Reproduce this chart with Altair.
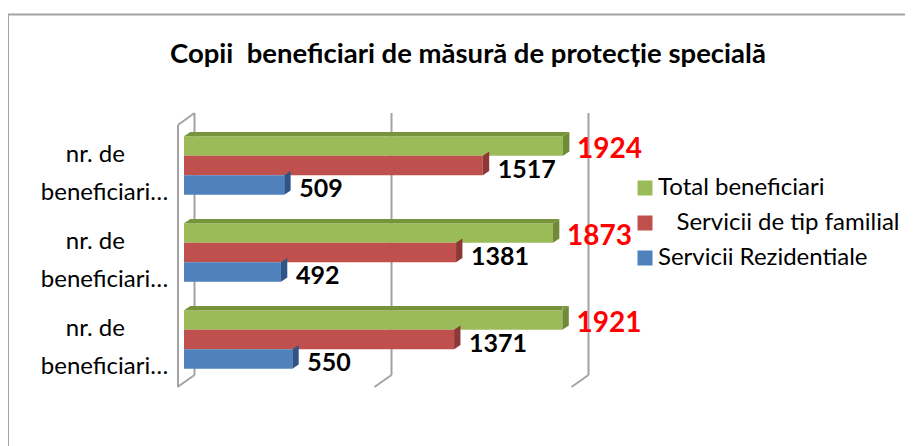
import altair as alt
import pandas as pd

categories = ["nr. de beneficiari… (1)", "nr. de beneficiari… (2)", "nr. de beneficiari… (3)"]
series_names = ["Total beneficiari", "\u200b\u00a0\u00a0\u00a0Servicii de tip familial", "Servicii Rezidentiale"]
total_values = [1924, 1873, 1921]
family_values = [1517, 1381, 1371]
residential_values = [509, 492, 550]
grid_values = [0, 1000, 2000]

front_colors = ["#9BBB59", "#C0504D", "#4F81BD"]
side_colors = ["#6F8A38", "#8C3836", "#2F5487"]
top_color = "#77933C"
wall_color = "#A3A3A3"
font = "Lato"

rows = []
for c, t, f, r in zip(categories, total_values, family_values, residential_values):
    rows.append({"cat": c, "series": series_names[0], "value": t, "zero": 0})
    rows.append({"cat": c, "series": series_names[1], "value": f, "zero": 0})
    rows.append({"cat": c, "series": series_names[2], "value": r, "zero": 0})
df = pd.DataFrame(rows)
grid = pd.DataFrame({"v": grid_values})

PLOT_W, PLOT_H = 430, 261
x_scale = alt.Scale(domain=[-71.07, 2111.7], nice=False, zero=False)
x_enc = alt.X("value:Q", scale=x_scale, axis=None, stack=None)
y_scale = alt.Scale(domain=categories, paddingInner=0.3276, paddingOuter=0.1638)
y_axis = alt.Axis(
    domain=False,
    ticks=False,
    labelAlign="center",
    labelBaseline="middle",
    labelPadding=66,
    labelOffset=-11,
    labelFont=font,
    labelFontSize=24,
    labelColor="#000000",
    labelLineHeight=38,
    labelLimit=0,
    labelExpr="['nr. de\\u00a0\\u00a0\\u00a0\\u200b', 'beneficiari…']",
)
y_enc = alt.Y("cat:N", scale=y_scale, sort=categories, title=None, axis=y_axis)
y_off = alt.YOffset("series:N", sort=series_names, scale=alt.Scale(domain=series_names, paddingInner=0, paddingOuter=0))
color_scale = alt.Scale(domain=series_names, range=front_colors)
side_scale = alt.Scale(domain=series_names, range=side_colors)

gx = alt.X("v:Q", scale=x_scale, axis=None)

# chart frame
frame_left = alt.Chart(grid).transform_filter("datum.v == 0").mark_rule(color=wall_color, strokeWidth=2).encode(
    x=alt.value(-162), y=alt.value(-108), y2=alt.value(PLOT_H + 63))
frame_top = alt.Chart(grid).transform_filter("datum.v == 0").mark_rule(color=wall_color, strokeWidth=2).encode(
    y=alt.value(-107.5), x=alt.value(-162), x2=alt.value(735))

# walls
grid_back = alt.Chart(grid).mark_rule(color=wall_color, strokeWidth=2, xOffset=10.5).encode(
    x=gx, y=alt.value(-9), y2=alt.value(253))
grid_diag = alt.Chart(grid).mark_rule(color=wall_color, strokeWidth=2, xOffset=10.5, x2Offset=-6.5).encode(
    x=gx, x2="v:Q", y=alt.value(253), y2=alt.value(265))
wall_front = alt.Chart(grid).transform_filter("datum.v == 0").mark_rule(color=wall_color, strokeWidth=2, xOffset=-6).encode(
    x=gx, y=alt.value(3), y2=alt.value(265))
wall_top = alt.Chart(grid).transform_filter("datum.v == 0").mark_rule(color=wall_color, strokeWidth=2, xOffset=-6, x2Offset=10.5).encode(
    x=gx, x2="v:Q", y=alt.value(3), y2=alt.value(-9))

# bars
bars = alt.Chart(df).mark_bar(size=19.5).encode(
    x=x_enc, x2="zero:Q", y=y_enc, yOffset=y_off,
    color=alt.Color("series:N", scale=color_scale, sort=series_names, legend=alt.Legend(
        title=None, orient="none", legendX=463, legendY=54,
        symbolType="square", symbolSize=225, symbolStrokeWidth=0,
        labelFont=font, labelFontSize=24, labelColor="#000000",
        rowPadding=11, labelOffset=1, labelLimit=0, padding=0,
        values=series_names,
    )),
)

side_path = "M0 -0.8125 L0.53 -1.17 L0.53 0.46 L0 0.8125 Z"
sides = alt.Chart(df).mark_point(shape=side_path, size=576, filled=True, opacity=1, strokeWidth=0).encode(
    x=x_enc, y=y_enc, yOffset=y_off,
    color=alt.Color("series:N", scale=side_scale, sort=series_names, legend=None),
)

df_total = df[df["series"] == series_names[0]]
top_rect = alt.Chart(df_total).mark_bar(size=4.3, yOffset=-31.4, color=top_color, x2Offset=6).encode(
    x=x_enc, x2="zero:Q", y=y_enc)
top_left_path = "M0 -0.8125 L0.53 -1.17 L0.53 -0.8125 Z"
top_right_path = "M0 -0.8125 L0 -1.17 L0.53 -1.17 Z"
top_left = alt.Chart(df_total).mark_point(shape=top_left_path, size=576, filled=True, opacity=1, strokeWidth=0, color=top_color).encode(
    x=alt.X("zero:Q", scale=x_scale, axis=None), y=y_enc, yOffset=y_off)
top_right = alt.Chart(df_total).mark_point(shape=top_right_path, size=576, filled=True, opacity=1, strokeWidth=0, color=top_color).encode(
    x=x_enc, y=y_enc, yOffset=y_off)

# value labels
black_labels = alt.Chart(df[df["series"] != series_names[0]]).mark_text(
    align="left", baseline="middle", dx=15, dy=4, font=font, fontWeight="bold", fontSize=25, color="#000000"
).encode(x=x_enc, y=y_enc, yOffset=y_off, text="value:Q")
red_labels = alt.Chart(df_total).mark_text(
    align="left", baseline="middle", dx=14, dy=4, font=font, fontWeight="bold", fontSize=28, color="#FF0000"
).encode(x=x_enc, y=y_enc, yOffset=y_off, text="value:Q")

chart = alt.layer(
    frame_left, frame_top, grid_back, grid_diag, wall_front, wall_top,
    bars, sides, top_rect, top_left, top_right, black_labels, red_labels,
).resolve_scale(color="independent").properties(
    width=PLOT_W,
    height=PLOT_H,
    autosize=alt.AutoSizeParams(type="none"),
    padding={"left": 162, "top": 114, "right": 305, "bottom": 63},
    title=alt.TitleParams(
        "Copii\u00a0\u00a0beneficiari de măsură de protecție specială",
        anchor="start", frame="group", dx=0, dy=55, offset=0,
        font=font, fontSize=27.5, fontWeight="bold", color="#000000",
    ),
).configure_view(stroke=None)

chart.save("out.html", embed_options={"renderer": "svg", "actions": False})
